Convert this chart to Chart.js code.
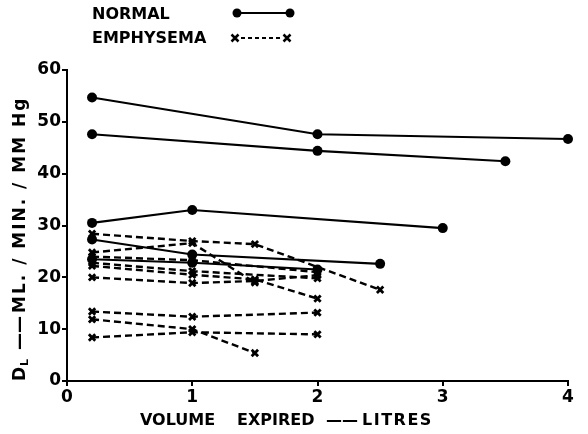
<!DOCTYPE html>
<html><head><meta charset="utf-8">
<script src="https://cdn.jsdelivr.net/npm/chart.js@4.4.1/dist/chart.umd.min.js"></script>
<style>html,body{margin:0;padding:0;background:#fff}#wrap{width:588px;height:434px}</style>
</head><body><div id="wrap"><canvas id="c" width="588" height="434"></canvas></div>
<script>
// Axis ticks
const xTickValues = [0, 1, 2, 3, 4];
const yTickValues = [0, 10, 20, 30, 40, 50, 60];

// NORMAL subjects: [volume expired (litres), DL]
const normal1 = [[0.2, 54.7], [2, 47.6], [4, 46.7]];
const normal2 = [[0.2, 47.6], [2, 44.4], [3.5, 42.4]];
const normal3 = [[0.2, 30.5], [1, 33.0], [3, 29.5]];
const normal4 = [[0.2, 27.3], [1, 24.4], [2.5, 22.6]];
const normal5 = [[0.2, 23.5], [1, 22.8], [2, 21.5]];

// EMPHYSEMA subjects
const emph1 = [[0.2, 28.4], [1, 27.0], [1.5, 26.4], [2.5, 17.6]];
const emph2 = [[0.2, 24.8], [1, 26.6], [1.5, 19.0]];
const emph3 = [[0.2, 24.0], [1, 23.3], [2, 21.0]];
const emph4 = [[0.2, 22.8], [1, 21.2], [2, 19.8]];
const emph5 = [[0.2, 22.2], [1, 20.5], [1.5, 19.6], [2, 15.9]];
const emph6 = [[0.2, 20.0], [1, 18.9], [1.5, 19.3], [2, 20.4]];
const emph7 = [[0.2, 13.4], [1, 12.4], [2, 13.2]];
const emph8 = [[0.2, 11.9], [1, 10.0], [1.5, 5.4]];
const emph9 = [[0.2, 8.4], [1, 9.4], [2, 9.0]];

const normalSeries = [normal1, normal2, normal3, normal4, normal5];
const emphSeries = [emph1, emph2, emph3, emph4, emph5, emph6, emph7, emph8, emph9];

const FONT = '"DejaVu Sans", sans-serif';
const toPts = s => s.map(p => ({x: p[0], y: p[1]}));

const datasets = [];
emphSeries.forEach((s, i) => datasets.push({
  label: 'EMPHYSEMA ' + (i + 1), data: toPts(s),
  borderColor: '#000', borderWidth: 2.4, borderDash: [7, 4],
  pointStyle: 'crossRot', pointRadius: 4.5, pointBorderWidth: 2.8,
  pointBorderColor: '#000', pointBackgroundColor: '#000',
  tension: 0, fill: false, clip: false
}));
normalSeries.forEach((s, i) => datasets.push({
  label: 'NORMAL ' + (i + 1), data: toPts(s),
  borderColor: '#000', borderWidth: 2.1,
  pointStyle: 'circle', pointRadius: 5, pointBorderWidth: 0,
  pointBackgroundColor: '#000', pointBorderColor: '#000',
  tension: 0, fill: false, clip: false
}));

const textPlugin = {
  id: 'texts',
  afterDraw(chart) {
    const ctx = chart.ctx;
    ctx.save();
    ctx.fillStyle = '#000'; ctx.strokeStyle = '#000';
    ctx.font = 'bold 16px ' + FONT;
    ctx.textBaseline = 'alphabetic'; ctx.textAlign = 'left';
    // legend
    ctx.fillText('NORMAL', 92, 19);
    ctx.fillText('EMPHYSEMA', 92, 43);
    ctx.lineWidth = 2; ctx.setLineDash([]);
    ctx.beginPath(); ctx.moveTo(237, 13); ctx.lineTo(290, 13); ctx.stroke();
    [237, 290].forEach(x => { ctx.beginPath(); ctx.arc(x, 13, 4.5, 0, Math.PI * 2); ctx.fill(); });
    ctx.setLineDash([4, 3]);
    ctx.beginPath(); ctx.moveTo(241, 38); ctx.lineTo(282, 38); ctx.stroke();
    ctx.setLineDash([]); ctx.lineWidth = 2.5;
    [235, 287].forEach(x => {
      ctx.beginPath(); ctx.moveTo(x - 3.5, 34.5); ctx.lineTo(x + 3.5, 41.5);
      ctx.moveTo(x + 3.5, 34.5); ctx.lineTo(x - 3.5, 41.5); ctx.stroke();
    });
    // x title
    ctx.fillText('VOLUME', 140, 425);
    ctx.fillText('EXPIRED', 237, 425);
    ctx.fillText('\u2014\u2014', 326, 425);
    ctx.letterSpacing = '1.5px';
    ctx.fillText('LITRES', 362, 425);
    // y title
    ctx.translate(25, 381);
    ctx.rotate(-Math.PI / 2);
    ctx.letterSpacing = '0px';
    ctx.font = 'bold 17px ' + FONT;
    ctx.fillText('D', 0, 0);
    ctx.font = 'bold 11px ' + FONT;
    ctx.fillText('L', 15, 3);
    ctx.font = 'bold 17px ' + FONT;
    ctx.fillText('\u2014\u2014', 31, 0);
    ctx.letterSpacing = '2px';
    ctx.fillText('ML. / MIN. / MM Hg', 68, 0);
    ctx.restore();
  }
};

new Chart(document.getElementById('c'), {
  type: 'line',
  data: { datasets },
  options: {
    responsive: false, animation: false, devicePixelRatio: 1,
    layout: { padding: { top: 70, right: 20, left: 0, bottom: 0 } },
    plugins: { legend: { display: false }, tooltip: { enabled: false }, title: { display: false } },
    scales: {
      x: {
        type: 'linear', min: 0, max: 4,
        afterBuildTicks: s => { s.ticks = xTickValues.map(v => ({ value: v })); },
        afterFit: s => { s.height = 53; },
        ticks: { color: '#000', font: { family: FONT, weight: 'bold', size: 17 }, padding: 1, maxRotation: 0 },
        grid: { drawOnChartArea: false, drawTicks: true, tickLength: 5, color: '#000', lineWidth: 2 },
        border: { display: true, color: '#000', width: 2 }
      },
      y: {
        type: 'linear', min: 0, max: 60,
        afterBuildTicks: s => { s.ticks = yTickValues.map(v => ({ value: v })); },
        afterFit: s => { s.width = 67; },
        ticks: { color: '#000', font: { family: FONT, weight: 'bold', size: 17 }, padding: 1 },
        grid: { drawOnChartArea: false, drawTicks: true, tickLength: 5, color: '#000', lineWidth: 2 },
        border: { display: true, color: '#000', width: 2 }
      }
    }
  },
  plugins: [textPlugin]
});
</script></body></html>
